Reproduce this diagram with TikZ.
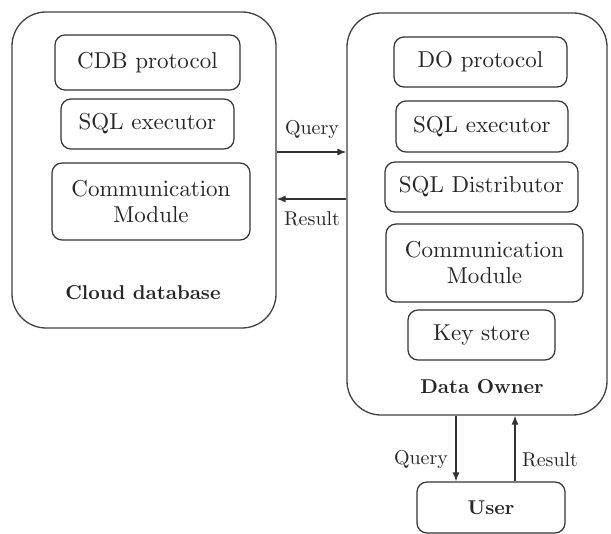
\documentclass[tikz,border=0pt]{standalone}
\usetikzlibrary{arrows.meta}
\font\boxrm=cmr10 at 23pt
\font\boxbf=cmbx10 at 20pt
\font\edgerm=cmr10 at 20pt
\newcommand\mybxfont{\boxrm\setlength{\baselineskip}{26pt}}
\begin{document}
\begin{tikzpicture}[x=1pt,y=-1pt,
  bigbox/.style={draw=black!75, line width=1.3pt, rounded corners=34pt, inner sep=0pt},
  inbox/.style={draw=black!80, line width=1.2pt, rounded corners=10pt, inner sep=0pt, align=center,
    font=\mybxfont, text=black!85},
  lbl/.style={font=\boxbf, text=black!85},
  elbl/.style={font=\edgerm, text=black!85},
  arr/.style={draw=black!80, line width=1.2pt, -{Latex[length=9pt,width=7pt]}}]
\useasboundingbox (0,0) rectangle (611,534);
% big boxes
\node[bigbox, minimum width=264pt, minimum height=316pt] (L) at (144,170) {};
\node[bigbox, minimum width=260pt, minimum height=402pt] (R) at (477,214) {};
% left inner
\node[inbox, minimum width=185pt, minimum height=55pt] (cdb) at (147.5,62.5) {CDB protocol};
\node[inbox, minimum width=173pt, minimum height=50pt] (sqlL) at (147.5,124) {SQL executor};
\node[inbox, minimum width=198pt, minimum height=77pt] (commL) at (151,201.5) {Communication\\Module};
\node[lbl] (cloud) at (143,293) {Cloud database};
% right inner
\node[inbox, minimum width=173pt, minimum height=50pt] (dop) at (480.5,62) {DO protocol};
\node[inbox, minimum width=172pt, minimum height=51pt] (sqlR) at (482,126.5) {SQL executor};
\node[inbox, minimum width=193pt, minimum height=50pt] (dist) at (481.5,187) {SQL Distributor};
\node[inbox, minimum width=197pt, minimum height=78pt] (commR) at (484.5,263) {Communication\\Module};
\node[inbox, minimum width=147pt, minimum height=50pt] (key) at (481.5,335) {Key store};
\node[lbl] (owner) at (482,387) {Data Owner};
% user
\node[inbox, minimum width=148pt, minimum height=51pt, font=\boxbf] (U) at (491,507.5) {User};
% horizontal arrows
\coordinate (qy) at (0,152);
\coordinate (ry) at (0,199);
\draw[arr] (L.east |- qy) -- (R.west |- qy);
\draw[arr] (R.west |- ry) -- (L.east |- ry);
\node[elbl] (q1) at (312,130) {Query};
\node[elbl] (r1) at (312,219) {Result};
% vertical arrows
\coordinate (ux) at (456,0);
\coordinate (vx) at (515,0);
\draw[arr] (R.south -| ux) -- (U.north -| ux);
\draw[arr] (U.north -| vx) -- (R.south -| vx);
\node[elbl] (q2) at (421,460) {Query};
\node[elbl] (r2) at (550,460) {Result};
\end{tikzpicture}
\end{document}
